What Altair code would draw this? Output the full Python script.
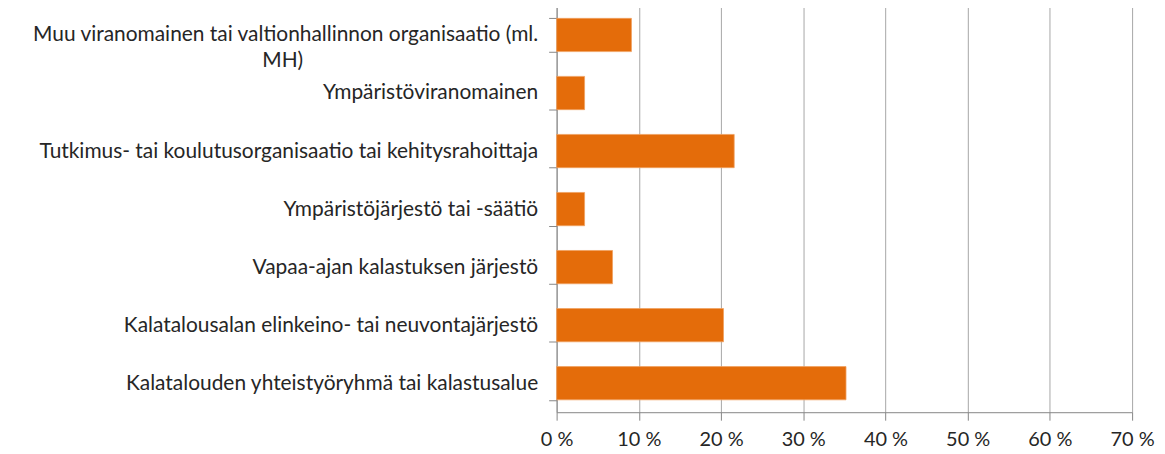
import altair as alt
import pandas as pd

categories = [
    "Muu viranomainen tai valtionhallinnon organisaatio (ml. MH)",
    "Ympäristöviranomainen",
    "Tutkimus- tai koulutusorganisaatio tai kehitysrahoittaja",
    "Ympäristöjärjestö tai -säätiö",
    "Vapaa-ajan kalastuksen järjestö",
    "Kalatalousalan elinkeino- tai neuvontajärjestö",
    "Kalatalouden yhteistyöryhmä tai kalastusalue",
]
values = [9.1, 3.4, 21.6, 3.4, 6.8, 20.3, 35.2]
x_ticks = [0, 10, 20, 30, 40, 50, 60, 70]

df = pd.DataFrame({"cat": categories, "val": values})

pad = "\u2003" * 15 + "\u200b"
label_expr = (
    "datum.label == '" + categories[0] + "' ? "
    "['Muu viranomainen tai valtionhallinnon organisaatio (ml.', 'MH)" + pad + "'] : datum.label"
)

FONT = "Lato"
FS = 21

chart = (
    alt.Chart(df)
    .mark_bar(color="#E46C0A", stroke="#F0A060", strokeWidth=0.8)
    .encode(
        x=alt.X(
            "val:Q",
            scale=alt.Scale(domain=[0, 70], nice=False),
            axis=alt.Axis(
                values=x_ticks,
                title=None,
                labelExpr="datum.value + ' %'",
                labelFlush=False,
                grid=True,
                gridColor="#A6A6A6",
                gridWidth=1,
                domainColor="#868686",
                tickColor="#868686",
                tickSize=8,
                labelPadding=9,
                labelFont=FONT,
                labelFontSize=20,
                labelColor="#262626",
            ),
        ),
        y=alt.Y(
            "cat:N",
            sort=None,
            scale=alt.Scale(paddingInner=0.427, paddingOuter=0.2135),
            axis=alt.Axis(
                title=None,
                labelExpr=label_expr,
                tickBand="extent",
                domainColor="#868686",
                tickColor="#868686",
                tickSize=8,
                labelPadding=11,
                labelFont=FONT,
                labelFontSize=FS,
                labelLineHeight=26,
                labelColor="#262626",
                labelLimit=600,
            ),
        ),
    )
    .properties(
        width=578,
        height=408,
        autosize=alt.AutoSizeParams(type="none"),
        padding={"left": 551, "top": -3, "right": 25, "bottom": 40},
    )
    .configure_view(stroke=None)
)

chart.save("out.html", embed_options={"renderer": "svg", "actions": False})
